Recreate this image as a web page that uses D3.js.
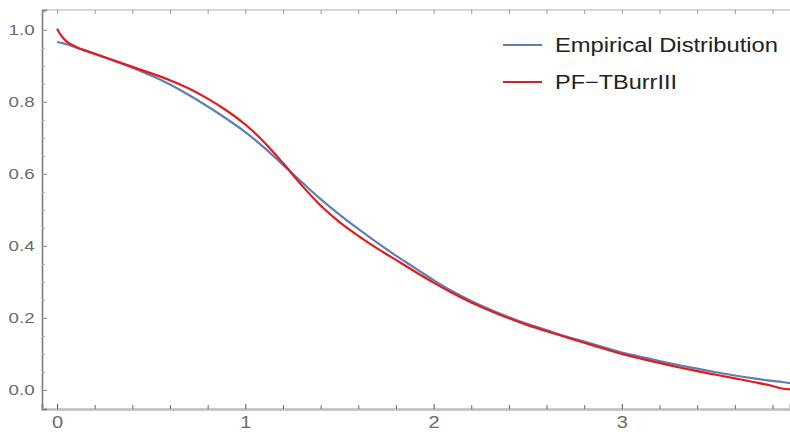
<!DOCTYPE html>
<html>
<head>
<meta charset="utf-8">
<script src="https://cdn.jsdelivr.net/npm/d3@7"></script>
<style>
  body { margin: 0; background: #fff; }
  .tick text { font-family: "Liberation Sans", Arial, sans-serif; fill: #6a6a6a; }
</style>
</head>
<body>
<div id="chart"></div>
<script>
var width = 790,
    height = 432;

// x positions
var xs = [0, 0.02, 0.05, 0.1, 0.2, 0.3, 0.4, 0.5, 0.6, 0.7, 0.8, 0.9, 1.0,
          1.1, 1.2, 1.3, 1.4, 1.5, 1.6, 1.7, 1.8, 1.9, 2.0, 2.1, 2.2, 2.3,
          2.4, 2.5, 2.6, 2.7, 2.8, 2.9, 3.0, 3.1, 3.2, 3.3, 3.4, 3.5, 3.6,
          3.7, 3.8, 3.85, 3.9];

var empirical = [0.967, 0.964, 0.960, 0.951, 0.934, 0.915, 0.895, 0.873, 0.848, 0.819, 0.787, 0.753, 0.716,
                 0.673, 0.625, 0.577, 0.530, 0.487, 0.447, 0.409, 0.373, 0.339, 0.305, 0.274, 0.247, 0.223,
                 0.202, 0.183, 0.166, 0.149, 0.134, 0.119, 0.104, 0.092, 0.080, 0.069, 0.059, 0.049, 0.040,
                 0.032, 0.025, 0.022, 0.018];

var pfTBurr = [1.003, 0.985, 0.968, 0.953, 0.933, 0.915, 0.897, 0.879, 0.860, 0.837, 0.809, 0.776, 0.737,
               0.688, 0.630, 0.568, 0.512, 0.466, 0.428, 0.393, 0.361, 0.329, 0.298, 0.269, 0.243, 0.220,
               0.199, 0.180, 0.163, 0.147, 0.131, 0.115, 0.100, 0.087, 0.075, 0.063, 0.052, 0.042, 0.032,
               0.022, 0.011, 0.004, 0.001];

var seriesNames = ["Empirical Distribution", "PF\u2212TBurrIII"];
var seriesColors = ["#5e81b5", "#e8191c"];

var xTicks = [0, 1, 2, 3],
    yTicks = [0.0, 0.2, 0.4, 0.6, 0.8, 1.0];

var x = d3.scaleLinear().domain([-0.08, 3.893]).range([42, 790]),
    y = d3.scaleLinear().domain([-0.053, 1.055]).range([409, 10]);

var svg = d3.select("#chart").append("svg")
    .attr("width", width)
    .attr("height", height);

// frame top line
svg.append("line")
    .attr("x1", 42).attr("x2", 790)
    .attr("y1", 10).attr("y2", 10)
    .style("stroke", "#c8c8c8").style("stroke-width", 1.5);

var xMinor = d3.range(0, 3.9, 0.2);
var yMinor = d3.range(-0.05, 1.06, 0.05).filter(function(d) { return Math.abs(Math.round(d * 5) - d * 5) > 0.01; });

// top ticks
svg.append("g")
    .attr("transform", "translate(0,10)")
    .call(d3.axisTop(x).tickValues(xMinor).tickSize(-4).tickFormat(""))
    .call(function(g) { g.select(".domain").remove(); g.selectAll("line").style("stroke", "#999"); });

// bottom axis
var gx = svg.append("g")
    .attr("transform", "translate(0,409)")
    .call(d3.axisBottom(x).tickValues(xTicks).tickSize(-5).tickPadding(8).tickFormat(d3.format("d")));
gx.select(".domain").style("stroke", "#bdbdbd").style("stroke-width", 2.5);
gx.selectAll("line").style("stroke", "#555");
gx.selectAll("text").style("font-size", "16px");

svg.append("g")
    .attr("transform", "translate(0,409)")
    .call(d3.axisBottom(x).tickValues(xMinor.filter(function(d) { return Math.abs(d - Math.round(d)) > 0.01; })).tickSize(-4).tickFormat(""))
    .call(function(g) { g.select(".domain").remove(); g.selectAll("line").style("stroke", "#666"); });

// left axis
var gy = svg.append("g")
    .attr("transform", "translate(42,0)")
    .call(d3.axisLeft(y).tickValues(yTicks).tickSize(-5).tickPadding(10).tickFormat(d3.format(".1f")));
gy.select(".domain").style("stroke", "#777").style("stroke-width", 1.5);
gy.selectAll("line").style("stroke", "#888");
gy.selectAll("text").style("font-size", "15px");

svg.append("g")
    .attr("transform", "translate(42,0)")
    .call(d3.axisLeft(y).tickValues(yMinor).tickSize(-3).tickFormat(""))
    .call(function(g) { g.select(".domain").remove(); g.selectAll("line").style("stroke", "#aaa"); });

svg.selectAll(".tick text")
    .style("transform-box", "fill-box")
    .style("transform-origin", "center")
    .style("transform", "scaleX(1.25)");

// curves
var line = d3.line()
    .x(function(d) { return x(d[0]); })
    .y(function(d) { return y(d[1]); })
    .curve(d3.curveMonotoneX);

[empirical, pfTBurr].forEach(function(vals, i) {
    svg.append("path")
        .datum(xs.map(function(v, j) { return [v, vals[j]]; }))
        .attr("d", line)
        .style("fill", "none")
        .style("stroke", seriesColors[i])
        .style("stroke-width", 2.2);
});

// legend
var legend = svg.append("g");
var legendWidths = [223, 122];
seriesNames.forEach(function(name, i) {
    var ly = 45 + i * 37;
    legend.append("line")
        .attr("x1", 503).attr("x2", 542)
        .attr("y1", ly).attr("y2", ly)
        .style("stroke", seriesColors[i])
        .style("stroke-width", 2.2);
    legend.append("text")
        .attr("x", 555).attr("y", ly + 7)
        .attr("textLength", legendWidths[i])
        .attr("lengthAdjust", "spacingAndGlyphs")
        .style("font-family", "Liberation Sans, Arial, sans-serif")
        .style("font-size", "20px")
        .style("fill", "#222")
        .text(name);
});
</script>
</body>
</html>
